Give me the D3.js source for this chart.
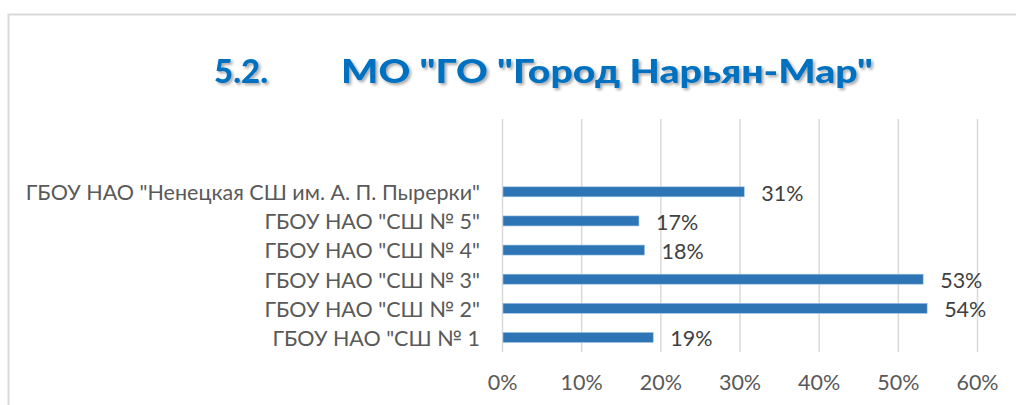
<!DOCTYPE html>
<html>
<head>
<meta charset="utf-8">
<script src="https://cdn.jsdelivr.net/npm/d3@7"></script>
<style>
  html, body { margin: 0; padding: 0; background: #fff; }
  svg { display: block; font-family: Lato, 'Open Sans', sans-serif; }
</style>
</head>
<body>
<svg id="chart" width="1016" height="405"></svg>
<script>
// DATA (bottom to top, as drawn)
const categories = [
  'ГБОУ НАО "СШ № 1',
  'ГБОУ НАО "СШ № 2"',
  'ГБОУ НАО "СШ № 3"',
  'ГБОУ НАО "СШ № 4"',
  'ГБОУ НАО "СШ № 5"',
  'ГБОУ НАО "Ненецкая СШ им. А. П. Пырерки"'
];
const values = [0.191, 0.537, 0.532, 0.180, 0.173, 0.306];
const xTicks = [0, 0.1, 0.2, 0.3, 0.4, 0.5, 0.6];
const titleNum = '5.2.';
const titleText = 'МО "ГО "Город Нарьян-Мар"';

// SETUP
const svg = d3.select('#chart');
const plot = { left: 502, right: 977, top: 119, bottom: 352 };
const slots = 8; // two empty slots above the bars
const fontSize = 21.5;

const x = d3.scaleLinear().domain([0, 0.6]).range([plot.left, plot.right]);
const y = d3.scaleBand()
  .domain(d3.range(slots))
  .range([plot.bottom, plot.top])
  .paddingInner(0.656)
  .paddingOuter(0.328);

// SHADOW FOR TITLE
const defs = svg.append('defs');
const shadow = defs.append('filter').attr('id', 'shadow')
  .attr('x', '-5%').attr('y', '-20%').attr('width', '110%').attr('height', '150%');
shadow.append('feDropShadow')
  .attr('dx', 2).attr('dy', 2).attr('stdDeviation', 1.5)
  .attr('flood-color', '#000').attr('flood-opacity', 0.35);

// CHART BORDER
svg.append('rect')
  .attr('x', 8.5).attr('y', 14.5)
  .attr('width', 1200).attr('height', 600)
  .attr('fill', 'none')
  .attr('stroke', '#d9d9d9')
  .attr('stroke-width', 2);

// TITLE
const title = svg.append('g')
  .attr('fill', '#0070c0')
  .attr('font-weight', 900)
  .attr('font-size', 33)
  .attr('filter', 'url(#shadow)');
title.append('text').attr('x', 214).attr('y', 83)
  .text(titleNum);
title.append('text').attr('x', 341).attr('y', 83)
  .attr('textLength', 532).attr('lengthAdjust', 'spacingAndGlyphs')
  .text(titleText);

// GRIDLINES
const grid = svg.append('g')
  .attr('transform', 'translate(0,' + plot.bottom + ')')
  .call(d3.axisBottom(x).tickValues(xTicks)
    .tickSizeInner(-(plot.bottom - plot.top)).tickSizeOuter(0).tickFormat(''));
grid.select('.domain').remove();
grid.selectAll('line').attr('stroke', '#d9d9d9').attr('stroke-width', 1.5);

// X AXIS LABELS
const xAxis = svg.append('g')
  .attr('transform', 'translate(0,' + plot.bottom + ')')
  .call(d3.axisBottom(x).tickValues(xTicks).tickSize(0)
    .tickPadding(23).tickFormat(d3.format('.0%')));
xAxis.select('.domain').remove();
xAxis.selectAll('text')
  .attr('fill', '#595959')
  .attr('font-size', fontSize)
  .attr('font-family', "Lato, 'Open Sans', sans-serif");

// Y AXIS LABELS
const yAxis = svg.append('g')
  .attr('transform', 'translate(' + plot.left + ',1.5)')
  .call(d3.axisLeft(y).tickSize(0).tickPadding(22)
    .tickFormat(i => categories[i] || ''));
yAxis.select('.domain').remove();
yAxis.selectAll('text')
  .attr('fill', '#595959')
  .attr('font-size', fontSize)
  .attr('font-family', "Lato, 'Open Sans', sans-serif");

// BARS
svg.append('g').selectAll('rect')
  .data(values)
  .enter()
  .append('rect')
  .attr('x', x(0) + 1)
  .attr('y', (d, i) => y(i))
  .attr('width', d => x(d) - x(0) - 1)
  .attr('height', y.bandwidth())
  .attr('fill', '#2e75b6')
  .attr('stroke', '#9dc3e6')
  .attr('stroke-width', 0.6);

// DATA LABELS
svg.append('g').selectAll('text')
  .data(values)
  .enter()
  .append('text')
  .attr('x', d => x(d) + 17)
  .attr('y', (d, i) => y(i) + y.bandwidth() / 2 + 1.5)
  .attr('dy', '0.35em')
  .attr('fill', '#404040')
  .attr('font-size', fontSize)
  .text(d => d3.format('.0%')(d));
</script>
</body>
</html>
